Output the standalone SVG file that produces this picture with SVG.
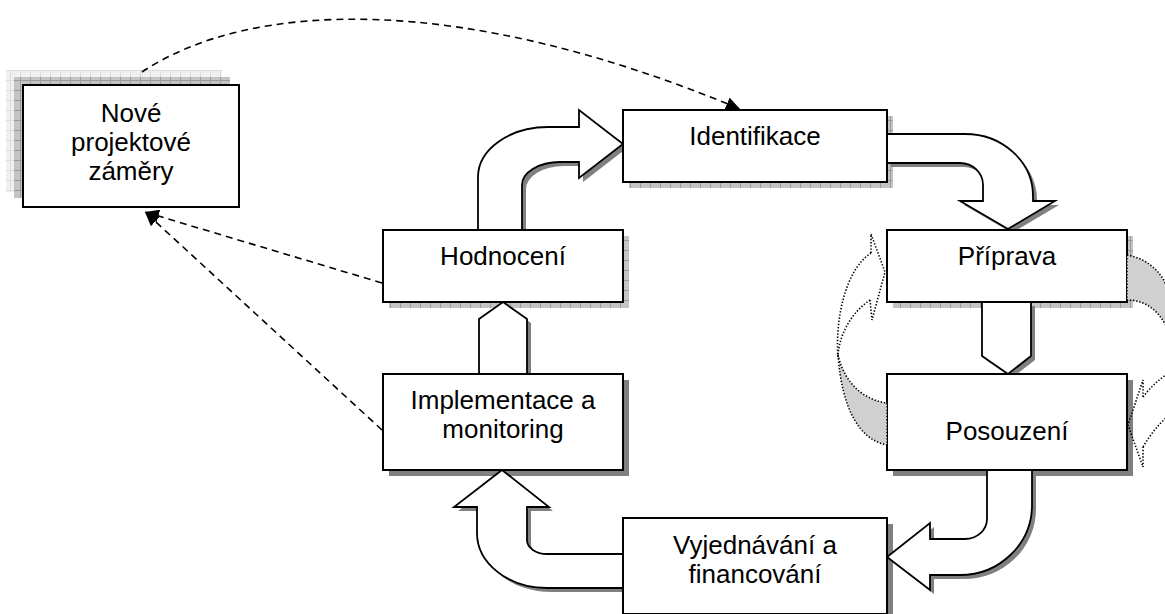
<svg xmlns="http://www.w3.org/2000/svg" width="1165" height="614" viewBox="0 0 1165 614">
  <defs>
    <pattern id="gridDark" width="10" height="10" patternUnits="userSpaceOnUse">
      <rect width="10" height="10" fill="#c4c4c4"/>
      <path d="M0,0.5H10M0.5,0V10" stroke="#9c9c9c" stroke-width="1"/>
    </pattern>
    <pattern id="gridLight" width="10" height="10" patternUnits="userSpaceOnUse">
      <rect width="10" height="10" fill="#f0f0f0"/>
      <path d="M0,0.5H10M0.5,0V10" stroke="#dcdcdc" stroke-width="1"/>
    </pattern>
    <marker id="head" markerUnits="userSpaceOnUse" markerWidth="15" markerHeight="13" refX="14" refY="6.5" orient="auto">
      <path d="M0,0 L14,6.5 L0,13 Z" fill="#000"/>
    </marker>
    <style>
      .box { fill: #fff; stroke: #000; stroke-width: 2; }
      .grid { fill: url(#gridDark); }
      .solid { fill: #808080; }
      .blk { fill: #fff; stroke: #000; stroke-width: 1.8; stroke-linejoin: miter; }
      .blkShadow { fill: #808080; }
      .lbl { font-family: "Liberation Sans", Arial, sans-serif; font-size: 26px; fill: #000; text-anchor: middle; }
      .dash { fill: none; stroke: #000; stroke-width: 1.6; stroke-dasharray: 7 5; }
      .dot { fill: none; stroke: #000; stroke-width: 1.6; stroke-dasharray: 1.4 1.8; }
      .dotGray { fill: #d0d0d0; stroke: #000; stroke-width: 1.6; stroke-dasharray: 1.4 1.8; }
    </style>
  </defs>

  <!-- box shadows -->
  <g id="shadows">
    <rect x="6" y="70" width="216" height="122" fill="url(#gridLight)"/>
    <rect x="14" y="77" width="216" height="121" fill="url(#gridDark)"/>
    <rect class="grid" x="629" y="116" width="264" height="72"/>
    <rect class="grid" x="893" y="236" width="240" height="72"/>
    <rect class="solid" x="893" y="380" width="240" height="96"/>
    <rect class="grid" x="389" y="236" width="240" height="72"/>
    <rect class="solid" x="389" y="380" width="240" height="96"/>
    <rect class="solid" x="629" y="524" width="264" height="96"/>
  </g>

  <!-- block arrows between the phases -->
  <g id="flow-arrows">
    <g transform="translate(4,4)">
      <path class="blkShadow" d="M478,230 L478,177 A70,50 0 0 1 548,127 L579,127 L579,110 L623,144 L579,178 L579,162 L560,162 A38,23 0 0 0 522,185 L522,230 Z"/>
      <path class="blkShadow" d="M887,134 L965,134 A68,62 0 0 1 1033,196 L1033,201 L1055,201 L1008,229 L960,201 L983,201 L983,185 A23,22 0 0 0 960,163 L887,163 Z"/>
      <path class="blkShadow" d="M982,302 L1031,302 L1031,356 L1008,374 L982,356 Z"/>
      <path class="blkShadow" d="M1032,470 L1032,505 A72,70 0 0 1 960,575 L930,575 L930,590 L887,557 L930,523 L930,539 L965,539 A22,20 0 0 0 987,519 L987,470 Z"/>
      <path class="blkShadow" d="M623,588 L547,588 A70,55 0 0 1 477,533 L477,507 L454,507 L502,470 L549,507 L527,507 L527,540 A20,14 0 0 0 547,554 L623,554 Z"/>
      <path class="blkShadow" d="M479,374 L479,319 L503,302 L527,319 L527,374 Z"/>
    </g>
    <path class="blk" d="M478,230 L478,177 A70,50 0 0 1 548,127 L579,127 L579,110 L623,144 L579,178 L579,162 L560,162 A38,23 0 0 0 522,185 L522,230 Z"/>
    <path class="blk" d="M887,134 L965,134 A68,62 0 0 1 1033,196 L1033,201 L1055,201 L1008,229 L960,201 L983,201 L983,185 A23,22 0 0 0 960,163 L887,163 Z"/>
    <path class="blk" d="M982,302 L1031,302 L1031,356 L1008,374 L982,356 Z"/>
    <path class="blk" d="M1032,470 L1032,505 A72,70 0 0 1 960,575 L930,575 L930,590 L887,557 L930,523 L930,539 L965,539 A22,20 0 0 0 987,519 L987,470 Z"/>
    <path class="blk" d="M623,588 L547,588 A70,55 0 0 1 477,533 L477,507 L454,507 L502,470 L549,507 L527,507 L527,540 A20,14 0 0 0 547,554 L623,554 Z"/>
    <path class="blk" d="M479,374 L479,319 L503,302 L527,319 L527,374 Z"/>
  </g>

  <g id="nove">
    <rect class="box" x="23" y="85" width="216" height="122"/>
    <text class="lbl" x="131" y="122">Nové</text>
    <text class="lbl" x="131" y="151">projektové</text>
    <text class="lbl" x="131" y="180">záměry</text>
  </g>
  <g id="identifikace">
    <rect class="box" x="623" y="110" width="264" height="72"/>
    <text class="lbl" x="755" y="145">Identifikace</text>
  </g>
  <g id="priprava">
    <rect class="box" x="887" y="230" width="240" height="72"/>
    <text class="lbl" x="1007" y="265">Příprava</text>
  </g>
  <g id="posouzeni">
    <rect class="box" x="887" y="374" width="240" height="96"/>
    <text class="lbl" x="1007" y="440">Posouzení</text>
  </g>
  <g id="vyjednavani">
    <rect class="box" x="623" y="518" width="264" height="96"/>
    <text class="lbl" x="755" y="554">Vyjednávání a</text>
    <text class="lbl" x="755" y="583">financování</text>
  </g>
  <g id="implementace">
    <rect class="box" x="383" y="374" width="240" height="96"/>
    <text class="lbl" x="503" y="409">Implementace a</text>
    <text class="lbl" x="503" y="438">monitoring</text>
  </g>
  <g id="hodnoceni">
    <rect class="box" x="383" y="230" width="240" height="72"/>
    <text class="lbl" x="503" y="265">Hodnocení</text>
  </g>

  <!-- dotted loop arrows between Příprava and Posouzení -->
  <g id="loop-left">
    <path class="dotGray" d="M838,355 C842,410 860,440 887,445 L887,403 C865,400 845,385 838,355 Z"/>
    <path class="dot" d="M871,253 C845,270 835,320 838,358"/>
    <path class="dot" d="M870,300 C855,310 840,330 838,355"/>
    <path class="dot" d="M871,253 L871,234 L885,272 L872,320 L870,300"/>
  </g>
  <g id="loop-right">
    <path class="dotGray" d="M1127,255 C1145,258 1160,270 1166,285 L1166,326 C1158,310 1145,300 1127,300 Z"/>
    <path class="dot" d="M1143,397 C1150,388 1158,380 1166,375"/>
    <path class="dot" d="M1143,447 C1150,435 1158,425 1166,418"/>
    <path class="dot" d="M1143,397 L1143,380 L1128,425 L1143,467 L1143,447"/>
  </g>

  <g id="connectors">
    <path class="dash" d="M142,72 C250,0 460,-8 740,109" marker-end="url(#head)"/>
    <path class="dash" d="M382,283 L145,212" marker-end="url(#head)"/>
    <path class="dash" d="M382,430 L145,212" marker-end="url(#head)"/>
  </g>
</svg>
